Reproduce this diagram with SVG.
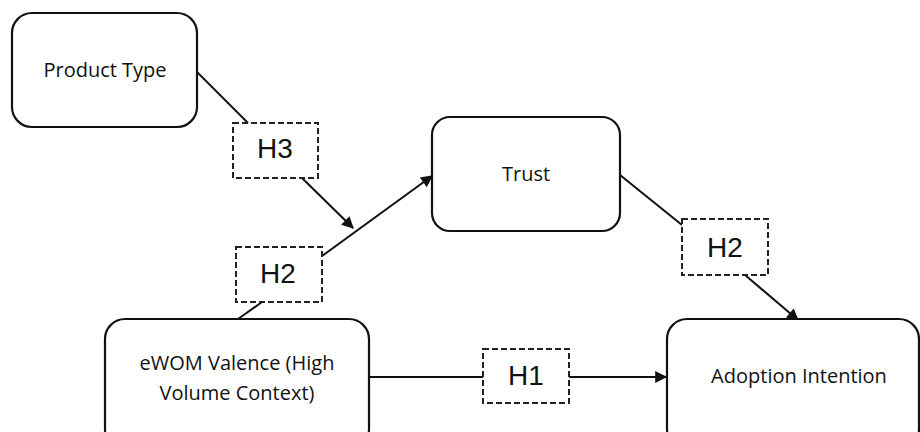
<svg xmlns="http://www.w3.org/2000/svg" width="920" height="432" viewBox="0 0 920 432">
<style>
.node{fill:#fff;stroke:#111;stroke-width:2.2}
.hyp{fill:#fff;stroke:#222;stroke-width:2;stroke-dasharray:6 3}
.lbl{font-family:"Open Sans",sans-serif;font-size:20px;fill:#111;text-anchor:middle}
.h{font-family:"Liberation Sans",Arial,sans-serif;font-size:28px;fill:#111;text-anchor:middle}
.c{stroke:#111;stroke-width:2;fill:none}
</style>
<defs>
<marker id="arr" viewBox="0 0 10 10" refX="9" refY="5" markerWidth="6.5" markerHeight="6" orient="auto" markerUnits="strokeWidth">
<path d="M0,0 L10,5 L0,10 z" fill="#111"/>
</marker>
</defs>
<rect width="920" height="432" fill="#fff"/>
<g id="connectors">
<line class="c" x1="197" y1="72" x2="248" y2="123"/>
<line class="c" x1="302" y1="178" x2="353" y2="228" marker-end="url(#arr)"/>
<line class="c" x1="238" y1="319" x2="262" y2="302"/>
<line class="c" x1="322" y1="256" x2="432" y2="176" marker-end="url(#arr)"/>
<line class="c" x1="369" y1="377" x2="483" y2="377"/>
<line class="c" x1="569" y1="377" x2="666" y2="377" marker-end="url(#arr)"/>
<line class="c" x1="620" y1="175" x2="682" y2="225"/>
<line class="c" x1="745" y1="275" x2="798" y2="320" marker-end="url(#arr)"/>
</g>
<g id="product-type">
<rect class="node" x="12" y="13" width="185" height="114" rx="20"/>
<text class="lbl" x="105" y="77">Product Type</text>
</g>
<g id="h3">
<rect class="hyp" x="233" y="123" width="85" height="55"/>
<text class="h" x="275" y="158">H3</text>
</g>
<g id="trust">
<rect class="node" x="432" y="117" width="188" height="114" rx="18"/>
<text class="lbl" x="526" y="181">Trust</text>
</g>
<g id="h2-upper">
<rect class="hyp" x="682" y="219" width="86" height="56"/>
<text class="h" x="725" y="257">H2</text>
</g>
<g id="h2-lower">
<rect class="hyp" x="236" y="247" width="86" height="55"/>
<text class="h" x="278" y="283">H2</text>
</g>
<g id="ewom">
<rect class="node" x="105" y="319" width="264" height="130" rx="20"/>
<text class="lbl" x="237" y="370">eWOM Valence (High</text>
<text class="lbl" x="237" y="400">Volume Context)</text>
</g>
<g id="h1">
<rect class="hyp" x="483" y="349" width="86" height="54"/>
<text class="h" x="526" y="385">H1</text>
</g>
<g id="adoption">
<rect class="node" x="667" y="319" width="252" height="130" rx="20"/>
<text class="lbl" x="799" y="383">Adoption Intention</text>
</g>
</svg>
